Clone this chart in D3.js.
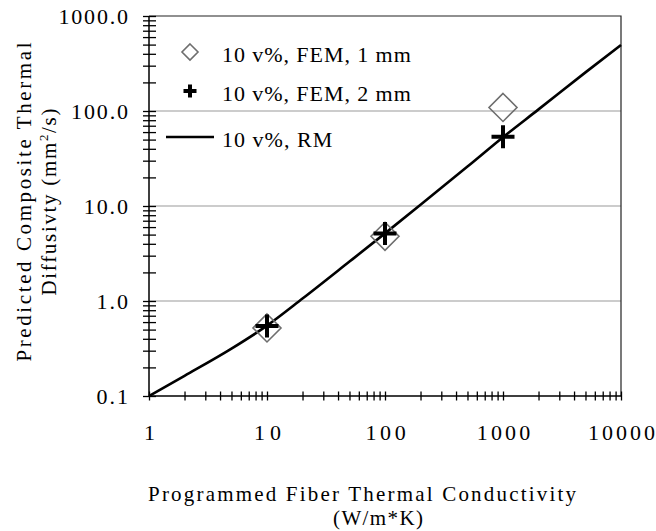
<!DOCTYPE html>
<html>
<head>
<meta charset="utf-8">
<script src="https://cdn.jsdelivr.net/npm/d3@7"></script>
<style>
  body { margin: 0; background: #fff; }
</style>
</head>
<body>
<div id="chart"></div>
<script>
// data
const rmK = [1, 2, 5, 10, 20, 50, 100, 200, 500, 1000, 2000, 5000, 10000];
const rmAlpha = [0.1, 0.163, 0.315, 0.55, 1.06, 2.6, 5.15, 10.3, 26, 53, 104, 255, 495];
const femK = [10, 100, 1000];
const fem1mm = [0.52, 4.8, 109];
const fem2mm = [0.545, 5.15, 53.6];
const xTicks = [1, 10, 100, 1000, 10000];
const yTicks = [0.1, 1, 10, 100, 1000];
const gridVals = [1, 10, 100];
const legendLabels = ["10 v%, FEM, 1 mm", "10 v%, FEM, 2 mm", "10 v%, RM"];

const W = 656, H = 531;
const margin = {top: 16, right: 35, bottom: 135, left: 149};
const width = W - margin.left - margin.right,
      height = H - margin.top - margin.bottom;
const serif = '"Liberation Serif"';

const svg = d3.select("#chart").append("svg")
  .attr("width", W).attr("height", H);

// widen text the way the old bitmap font did
function stretch(sel, k) {
  sel.each(function() {
    const w = this.getComputedTextLength();
    d3.select(this).attr("textLength", w * k).attr("lengthAdjust", "spacing");
  });
}

const x = d3.scaleLog().domain([1, 10000]).range([margin.left, margin.left + width]);
const y = d3.scaleLog().domain([0.1, 1000]).range([margin.top + height, margin.top]);

// minor tick values, 1..9 per decade
const minorX = [], minorY = [];
for (let e = 0; e < 4; e++) for (let m = 1; m < 10; m++) minorX.push(m * Math.pow(10, e));
minorX.push(10000);
for (let e = -1; e < 3; e++) for (let m = 1; m < 10; m++) minorY.push(+(m * Math.pow(10, e)).toPrecision(3));
minorY.push(1000);

// gridlines
svg.append("g").selectAll("line").data(gridVals).join("line")
  .attr("x1", x(1)).attr("x2", x(10000))
  .attr("y1", d => y(d)).attr("y2", d => y(d))
  .attr("stroke", "#999").attr("stroke-width", 1.2);

// frame: top + right
svg.append("path")
  .attr("d", `M${x(1)},${y(1000)}H${x(10000)}V${y(0.1)}`)
  .attr("fill", "none").attr("stroke", "#222").attr("stroke-width", 1.2);

// crossing ticks
const yTickG = svg.append("g").attr("transform", `translate(${x(1) + 7},0)`)
  .call(d3.axisLeft(y).tickValues(minorY).tickSize(13).tickFormat(""));
yTickG.select(".domain").remove();
yTickG.selectAll("line").attr("stroke", "#000").attr("stroke-width", 1.3);

const xTickG = svg.append("g").attr("transform", `translate(0,${y(0.1) - 4.5})`)
  .call(d3.axisBottom(x).tickValues(minorX).tickSize(9).tickFormat(""));
xTickG.select(".domain").remove();
xTickG.selectAll("line").attr("stroke", "#000").attr("stroke-width", 1.3);

// axis lines
svg.append("path")
  .attr("d", `M${x(1)},${y(1000)}V${y(0.1)}H${x(10000)}`)
  .attr("fill", "none").attr("stroke", "#000").attr("stroke-width", 1.5);

// tick labels
const yLab = svg.append("g").attr("transform", `translate(${x(1)},0)`)
  .call(d3.axisLeft(y).tickValues(yTicks).tickSize(0).tickPadding(21).tickFormat(d3.format(".1f")));
yLab.attr("font-family", null).attr("font-size", null).select(".domain").remove();
yLab.selectAll("text").attr("font-family", serif).attr("font-size", 22).attr("fill", "#000")
  .call(stretch, 1.15);

const xLab = svg.append("g").attr("transform", `translate(0,${y(0.1)})`)
  .call(d3.axisBottom(x).tickValues(xTicks).tickSize(0).tickPadding(28).tickFormat(d3.format("d")));
xLab.attr("font-family", null).attr("font-size", null).select(".domain").remove();
xLab.selectAll("text").attr("font-family", serif).attr("font-size", 22).attr("fill", "#000")
  .call(stretch, 1.22);

// RM line
const line = d3.line().curve(d3.curveMonotoneX).x(d => x(d[0])).y(d => y(d[1]));
svg.append("path")
  .datum(rmK.map((k, i) => [k, rmAlpha[i]]))
  .attr("d", line)
  .attr("fill", "none").attr("stroke", "#000").attr("stroke-width", 2.6);

// markers
function diamond(s) { return `M0,${-s}L${s},0L0,${s}L${-s},0Z`; }
function plus(s) { return `M${-s},0H${s}M0,${-s}V${s}`; }

svg.append("g").selectAll("path").data(femK.map((k, i) => [k, fem1mm[i]])).join("path")
  .attr("transform", d => `translate(${x(d[0])},${y(d[1])})`)
  .attr("d", diamond(14))
  .attr("fill", "none").attr("stroke", "#6e6e6e").attr("stroke-width", 1.6);

svg.append("g").selectAll("path").data(femK.map((k, i) => [k, fem2mm[i]])).join("path")
  .attr("transform", d => `translate(${x(d[0])},${y(d[1])})`)
  .attr("d", plus(11.5))
  .attr("fill", "none").attr("stroke", "#000").attr("stroke-width", 4);

// legend
const legX = 190, legTextX = 222;
const legY = [52, 91, 137];
svg.append("path").attr("transform", `translate(${legX},${legY[0]})`)
  .attr("d", diamond(8)).attr("fill", "none").attr("stroke", "#6e6e6e").attr("stroke-width", 1.6);
svg.append("path").attr("transform", `translate(${legX},${legY[1]})`)
  .attr("d", plus(6.5)).attr("fill", "none").attr("stroke", "#000").attr("stroke-width", 4);
svg.append("line").attr("x1", 166).attr("x2", 214).attr("y1", legY[2]).attr("y2", legY[2])
  .attr("stroke", "#000").attr("stroke-width", 2.6);
svg.append("g").selectAll("text").data(legendLabels).join("text")
  .attr("x", legTextX).attr("y", (d, i) => legY[i] + 9.5)
  .attr("font-family", serif).attr("font-size", 22)
  .text(d => d)
  .call(stretch, 1.08);

// axis titles
svg.append("text").attr("text-anchor", "middle").attr("x", 362).attr("y", 501)
  .attr("font-family", serif).attr("font-size", 21)
  .text("Programmed Fiber Thermal Conductivity")
  .attr("textLength", 428).attr("lengthAdjust", "spacing");
svg.append("text").attr("text-anchor", "middle").attr("x", 378).attr("y", 525)
  .attr("font-family", serif).attr("font-size", 21)
  .text("(W/m*K)")
  .attr("textLength", 90).attr("lengthAdjust", "spacing");

const yt = svg.append("g").attr("transform", "translate(0,202) rotate(-90)");
yt.append("text").attr("text-anchor", "middle").attr("x", 0).attr("y", 31)
  .attr("font-family", serif).attr("font-size", 21)
  .text("Predicted Composite Thermal")
  .attr("textLength", 319).attr("lengthAdjust", "spacing");
const yt2 = yt.append("text").attr("text-anchor", "middle").attr("x", 0).attr("y", 56)
  .attr("font-family", serif).attr("font-size", 21)
  .attr("textLength", 187).attr("lengthAdjust", "spacing");
yt2.append("tspan").text("Diffusivty (mm");
yt2.append("tspan").attr("dy", -8).attr("font-size", 13).text("2");
yt2.append("tspan").attr("dy", 8).text("/s)");
</script>
</body>
</html>
